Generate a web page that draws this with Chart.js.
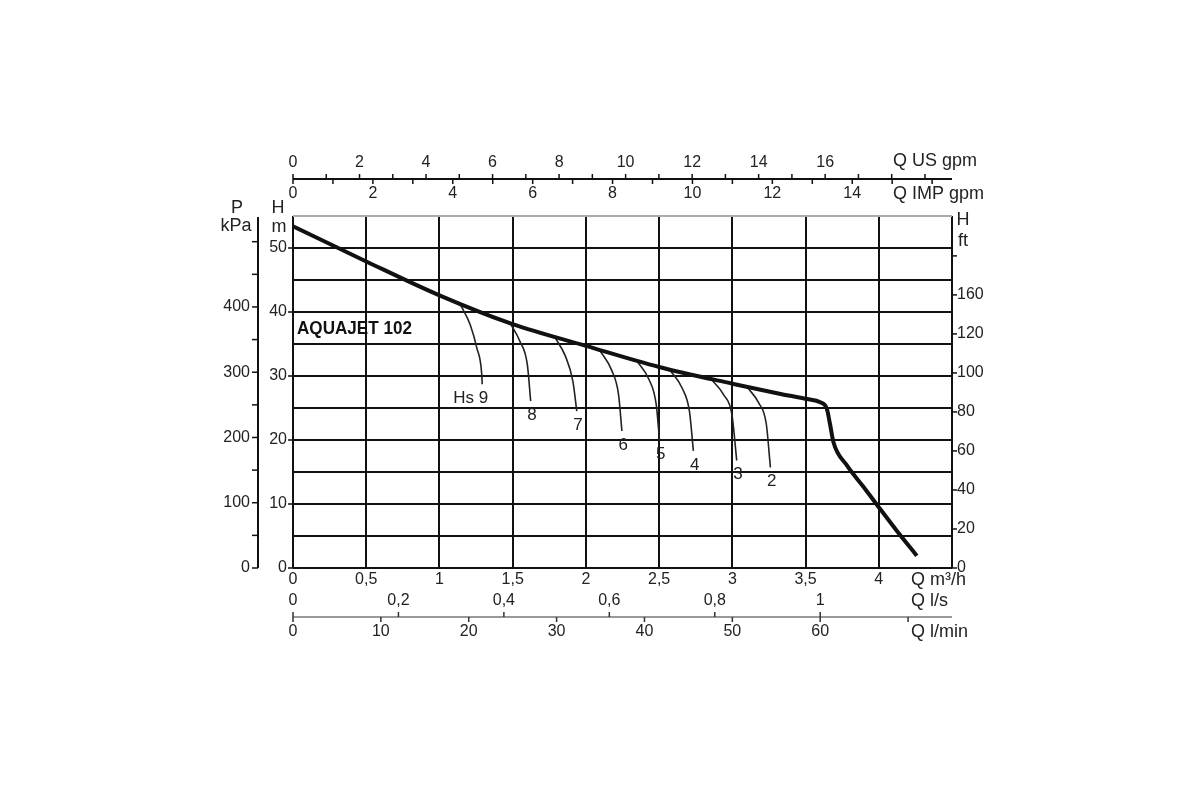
<!DOCTYPE html>
<html>
<head>
<meta charset="utf-8">
<title>AQUAJET 102</title>
<script src="https://cdn.jsdelivr.net/npm/chart.js@4.4.1/dist/chart.umd.min.js"></script>
<style>
    html, body { margin: 0; padding: 0; background: #fff; }
    #caja { width: 1200px; height: 800px; }
</style>
</head>
<body>
<div id="caja"><canvas id="grafico" width="1200" height="800"></canvas></div>
<script>
// curva principal: caudal Q (m3/h) y altura H (m)
const qCurva = [0, 0.5, 1, 1.5, 2, 2.5, 3, 3.33, 3.51, 3.6, 3.645, 3.667, 3.69, 3.78, 3.895, 4.0, 4.12, 4.26];
const hCurva = [53.4, 47.9, 42.6, 38.1, 34.7, 31.4, 28.8, 27.2, 26.4, 25.9, 24.9, 22.5, 19.7, 16.1, 12.7, 9.5, 5.9, 1.9];

// curvas de aspiración Hs
const hsNombres = ['Hs 9', '8', '7', '6', '5', '4', '3', '2'];
const hsQ = [
    [1.14, 1.21, 1.255, 1.289, 1.292],
    [1.482, 1.55, 1.60, 1.623],
    [1.79, 1.86, 1.911, 1.938],
    [2.098, 2.178, 2.223, 2.246],
    [2.35, 2.43, 2.48, 2.503],
    [2.575, 2.655, 2.707, 2.734],
    [2.86, 2.94, 2.997, 3.03],
    [3.10, 3.18, 3.232, 3.26]
];
const hsH = [
    [41.3, 38.0, 34.4, 30.2, 28.7],
    [38.3, 35.4, 31.8, 26.1],
    [36.0, 33.1, 29.2, 24.5],
    [33.9, 30.8, 27.1, 21.4],
    [32.3, 29.5, 25.6, 19.9],
    [30.9, 28.2, 24.5, 18.3],
    [29.4, 27.1, 24.0, 16.8],
    [28.3, 25.8, 22.5, 15.7]
];

// escalas secundarias
const ticksQ = [0, 0.5, 1, 1.5, 2, 2.5, 3, 3.5, 4];
const etiquetasQ = ['0', '0,5', '1', '1,5', '2', '2,5', '3', '3,5', '4'];
const ticksUS = [0, 2, 4, 6, 8, 10, 12, 14, 16];
const ticksIMP = [0, 2, 4, 6, 8, 10, 12, 14];
const ticksLs = [0, 0.2, 0.4, 0.6, 0.8, 1];
const etiquetasLs = ['0', '0,2', '0,4', '0,6', '0,8', '1'];
const ticksLmin = [0, 10, 20, 30, 40, 50, 60];
const ticksM = [0, 10, 20, 30, 40, 50];
const ticksKpa = [0, 100, 200, 300, 400];
const ticksFt = [0, 20, 40, 60, 80, 100, 120, 140, 160];
const etiquetasFt = ['0', '20', '40', '60', '80', '100', '120', '160', ''];

const US_POR_M3H = 4.40287;
const IMP_POR_M3H = 3.66615;
const LS_POR_M3H = 1 / 3.6;
const LMIN_POR_M3H = 1000 / 60;
const M_POR_KPA = 1 / 9.80665;
const M_POR_FT = 0.3048;

const fuente = "'Liberation Sans', Arial, sans-serif";
const colorTexto = '#222';

function texto(ctx, s, x, y, align, tam) {
    ctx.fillStyle = colorTexto;
    ctx.font = tam + 'px ' + fuente;
    ctx.textAlign = align;
    ctx.textBaseline = 'middle';
    ctx.fillText(s, x, y);
}

function linea(ctx, x1, y1, x2, y2, color, ancho) {
    ctx.strokeStyle = color;
    ctx.lineWidth = ancho;
    ctx.beginPath();
    ctx.moveTo(x1, y1);
    ctx.lineTo(x2, y2);
    ctx.stroke();
}

const ejesExtra = {
    id: 'ejesExtra',
    afterDraw(chart) {
        const ctx = chart.ctx;
        const sx = chart.scales.x;
        const sy = chart.scales.y;
        const xQ = q => sx.getPixelForValue(q);
        const yH = h => sy.getPixelForValue(h);
        const izq = xQ(0), der = xQ(4.5);
        const abajo = yH(0), arriba = yH(55);
        ctx.save();

        // arriba: US gpm / IMP gpm
        const yTop = 179;
        linea(ctx, izq, yTop, der, yTop, '#111', 2);
        for (let g = 0; g <= 19; g++) {
            const x = xQ(g / US_POR_M3H);
            linea(ctx, x, yTop, x, yTop - 5, '#111', 1.5);
        }
        for (let g = 0; g <= 16; g++) {
            const x = xQ(g / IMP_POR_M3H);
            linea(ctx, x, yTop, x, yTop + 5, '#111', 1.5);
        }
        ticksUS.forEach(g => texto(ctx, String(g), xQ(g / US_POR_M3H), 163, 'center', 16));
        ticksIMP.forEach(g => texto(ctx, String(g), xQ(g / IMP_POR_M3H), 194, 'center', 16));
        texto(ctx, 'Q US gpm', 893, 161, 'left', 18);
        texto(ctx, 'Q IMP gpm', 893, 194, 'left', 18);

        // izquierda: P kPa
        const xP = 258;
        linea(ctx, xP, abajo, xP, arriba + 1, '#111', 2);
        for (let p = 0; p <= 500; p += 50) {
            const y = yH(p * M_POR_KPA);
            linea(ctx, xP, y, xP - 6, y, '#111', 1.5);
        }
        ticksKpa.forEach(p => texto(ctx, String(p), xP - 8, yH(p * M_POR_KPA), 'right', 16));
        texto(ctx, 'P', 237, 208, 'center', 18);
        texto(ctx, 'kPa', 236, 226, 'center', 18);

        // H m
        ticksM.forEach(h => {
            linea(ctx, izq, yH(h), izq - 5, yH(h), '#111', 1.5);
            texto(ctx, String(h), izq - 6, yH(h), 'right', 16);
        });
        texto(ctx, 'H', 278, 208, 'center', 18);
        texto(ctx, 'm', 279, 227, 'center', 18);

        // derecha: H ft
        ticksFt.forEach((f, i) => {
            const y = yH(f * M_POR_FT);
            linea(ctx, der, y, der + 5, y, '#111', 1.5);
            texto(ctx, etiquetasFt[i], der + 5, y, 'left', 16);
        });
        texto(ctx, 'H', 963, 220, 'center', 18);
        texto(ctx, 'ft', 963, 241, 'center', 18);

        // abajo: m3/h, l/s, l/min
        ticksQ.forEach((q, i) => texto(ctx, etiquetasQ[i], xQ(q), 580, 'center', 16));
        texto(ctx, 'Q m³/h', 911, 580, 'left', 18);
        ticksLs.forEach((l, i) => texto(ctx, etiquetasLs[i], xQ(l / LS_POR_M3H), 601, 'center', 16));
        texto(ctx, 'Q l/s', 911, 601, 'left', 18);
        const yBot = 617;
        linea(ctx, izq, yBot, der, yBot, '#999', 2);
        ticksLs.forEach(l => {
            const x = xQ(l / LS_POR_M3H);
            linea(ctx, x, yBot, x, yBot - 5, '#333', 1.5);
        });
        [...ticksLmin, 70].forEach(l => {
            const x = xQ(l / LMIN_POR_M3H);
            linea(ctx, x, yBot, x, yBot + 5, '#333', 1.5);
        });
        ticksLmin.forEach(l => texto(ctx, String(l), xQ(l / LMIN_POR_M3H), 632, 'center', 16));
        texto(ctx, 'Q l/min', 911, 632, 'left', 18);

        // nombres de las curvas Hs
        hsNombres.forEach((n, i) => {
            const k = hsQ[i].length - 1;
            texto(ctx, n, xQ(hsQ[i][k]) + 6, yH(hsH[i][k]) + 14, 'right', 17);
        });

        // modelo (letra estrecha)
        ctx.fillStyle = '#111';
        ctx.font = "bold 19px " + fuente;
        ctx.textAlign = 'left';
        ctx.textBaseline = 'middle';
        ctx.translate(297, 329);
        ctx.scale(0.9, 1);
        ctx.fillText('AQUAJET 102', 0, 0);

        ctx.restore();
    }
};

const datasets = [{
    data: qCurva.map((q, i) => ({ x: q, y: hCurva[i] })),
    showLine: true,
    borderColor: '#111',
    borderWidth: 4,
    pointRadius: 0,
    cubicInterpolationMode: 'monotone'
}];
hsQ.forEach((serie, i) => {
    datasets.push({
        data: serie.map((q, j) => ({ x: q, y: hsH[i][j] })),
        showLine: true,
        borderColor: '#222',
        borderWidth: 1.6,
        pointRadius: 0,
        cubicInterpolationMode: 'monotone'
    });
});

new Chart(document.getElementById('grafico'), {
    type: 'scatter',
    data: { datasets: datasets },
    options: {
        responsive: false,
        animation: false,
        devicePixelRatio: 1,
        layout: { padding: { left: 293, right: 248, top: 216, bottom: 232 } },
        plugins: { legend: { display: false }, tooltip: { enabled: false } },
        scales: {
            x: {
                type: 'linear',
                min: 0,
                max: 4.5,
                ticks: { stepSize: 0.5, display: false },
                grid: { color: '#111', lineWidth: 2, drawTicks: false },
                border: { display: false }
            },
            y: {
                type: 'linear',
                min: 0,
                max: 55,
                ticks: { stepSize: 5, display: false },
                grid: {
                    color: c => (c.tick && c.tick.value === 55) ? '#aaa' : '#111',
                    lineWidth: 2,
                    drawTicks: false
                },
                border: { display: false }
            }
        }
    },
    plugins: [ejesExtra]
});
</script>
</body>
</html>
